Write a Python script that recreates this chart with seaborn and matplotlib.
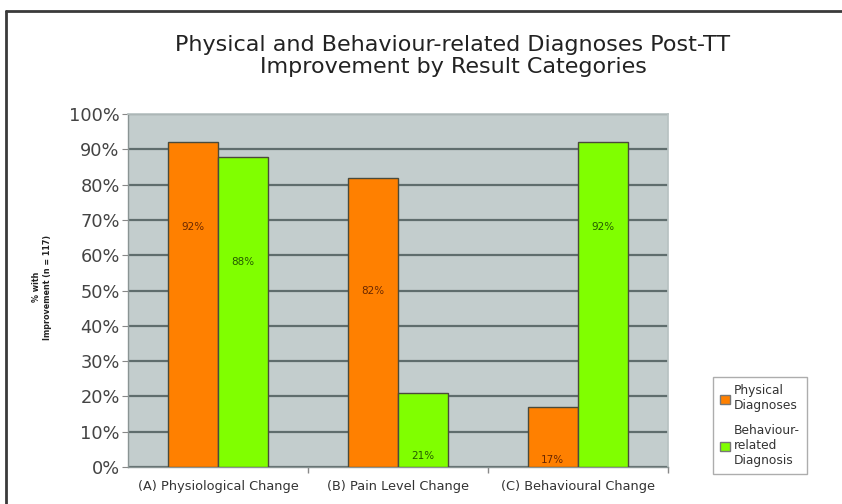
import matplotlib
matplotlib.use("Agg")
import matplotlib.pyplot as plt
import seaborn as sns
import pandas as pd
from matplotlib.patches import Patch
from matplotlib.lines import Line2D

categories = ["(A) Physiological Change", "(B) Pain Level Change", "(C) Behavioural Change"]
series_names = ["Physical\nDiagnoses", "Behaviour-\nrelated\nDiagnosis"]
physical = [92, 82, 17]
behaviour = [88, 21, 92]
# heights (in % units) where the value labels sit inside the bars
physical_label_at = [68, 50, 2]
behaviour_label_at = [58, 3, 68]
yticks = [0, 10, 20, 30, 40, 50, 60, 70, 80, 90, 100]
title = "Physical and Behaviour-related Diagnoses Post-TT\nImprovement by Result Categories"
ylabel = "% with\nImprovement (n = 117)"

df = pd.DataFrame({
    "category": categories * 2,
    "series": [series_names[0]] * 3 + [series_names[1]] * 3,
    "value": physical + behaviour,
})

sns.set_theme(style="white")
plt.rcParams["font.family"] = ["DejaVu Sans"]

fig = plt.figure(figsize=(8.42, 5.04), dpi=100)
ax = fig.add_axes([0.152, 0.0734, 0.641, 0.700])
ax.set_facecolor("#c3cdcd")

colors = ["#ff8000", "#80ff00"]
sns.barplot(data=df, x="category", y="value", hue="series", order=categories,
            hue_order=series_names, palette=colors, width=0.556, saturation=1,
            edgecolor="#4a4a3a", linewidth=1.0, ax=ax, zorder=3, legend=False)

ax.set_ylim(0, 100)
ax.set_xlim(-0.5, 2.5)
ax.set_yticks(yticks)
ax.set_yticklabels([f"{t}%" for t in yticks], fontsize=12.8, color="#444444")
ax.yaxis.grid(True, color="#5f6d6d", linewidth=1.6, zorder=1)
ax.set_axisbelow(True)
ax.tick_params(axis="y", length=4, width=0.8, color="#888888", pad=2, left=True)
ax.set_xticks(range(len(categories)))
ax.set_xticklabels(categories, fontsize=9.3, color="#333333")
ax.tick_params(axis="x", length=0, pad=9)
ax.set_xticks([0.5, 1.5, 2.5], minor=True)
ax.tick_params(axis="x", which="minor", length=4, color="#888888", bottom=True)
ax.set_xlabel("")
ax.set_ylabel("")
for s in ["top", "right"]:
    ax.spines[s].set_color("#b8c2c2")
for s in ["left", "bottom"]:
    ax.spines[s].set_color("#8a9494")
    ax.spines[s].set_linewidth(1.0)

# value labels
offsets = [-0.139, 0.139]
for si, (vals, labs, tc) in enumerate([(physical, physical_label_at, "#6a2800"),
                                        (behaviour, behaviour_label_at, "#245a00")]):
    for ci, (v, ly) in enumerate(zip(vals, labs)):
        ax.text(ci + offsets[si], ly, f"{v}%", ha="center", va="center",
                fontsize=7.5, color=tc, zorder=5)

fig.text(0.538, 0.888, title, ha="center", va="center", fontsize=16,
         color="#222222", family=["Liberation Sans Narrow", "DejaVu Sans"], linespacing=1.12)
fig.text(0.05, 0.43, ylabel, ha="center", va="center", rotation=90,
         fontsize=5.8, fontweight="bold", color="#222222", linespacing=1.2)

handles = [Patch(facecolor=colors[0], edgecolor="#777777"),
           Patch(facecolor=colors[1], edgecolor="#777777")]
leg = fig.legend(handles, series_names, loc="upper left",
                 bbox_to_anchor=(707 / 842, 1 - 371 / 504), fontsize=8.8,
                 frameon=True, fancybox=False, edgecolor="#999999",
                 handlelength=0.8, handleheight=0.8, handletextpad=0.3,
                 labelspacing=0.95, borderpad=0.6, labelcolor="#333333")
leg.get_frame().set_linewidth(1.0)

# figure border (top and left, as in the cropped screenshot)
fig.add_artist(Line2D([6 / 842, 1.0], [1 - 11 / 504, 1 - 11 / 504], transform=fig.transFigure,
                      color="#3a3a3a", linewidth=2))
fig.add_artist(Line2D([6 / 842, 6 / 842], [0, 1 - 11 / 504], transform=fig.transFigure,
                      color="#3a3a3a", linewidth=2))

fig.savefig("out.png", dpi=100)
